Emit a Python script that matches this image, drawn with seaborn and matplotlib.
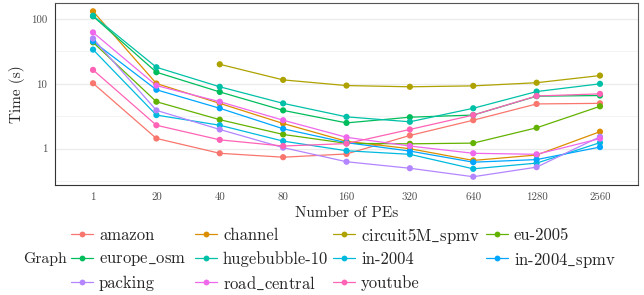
import numpy as np
import pandas as pd
import matplotlib
matplotlib.use('Agg')
import matplotlib.pyplot as plt
from matplotlib.lines import Line2D
from matplotlib.ticker import FixedLocator, NullFormatter
import seaborn as sns

# data
pes = ['1', '20', '40', '80', '160', '320', '640', '1280', '2560']
graphs = ['amazon', 'channel', 'circuit5M_spmv', 'eu-2005', 'europe_osm',
          'hugebubble-10', 'in-2004', 'in-2004_spmv', 'packing',
          'road_central', 'youtube']
amazon = [10.2, 1.44, 0.85, 0.74, 0.83, 1.6, 2.75, 4.9, 5.0]
channel = [131, 10.1, 5.0, 2.45, 1.3, 1.0, 0.66, 0.8, 1.83]
circuit5M_spmv = [np.nan, np.nan, 20, 11.5, 9.4, 9.0, 9.3, 10.4, 13.4]
eu_2005 = [43.6, 5.3, 2.8, 1.66, 1.21, 1.19, 1.22, 2.1, 4.5]
europe_osm = [110, 15.1, 7.5, 3.9, 2.5, 3.06, 3.3, 6.45, 6.6]
hugebubble_10 = [112, 18, 9.0, 5.0, 3.1, 2.6, 4.2, 7.6, 10.0]
in_2004 = [33.7, 3.3, 2.3, 1.31, 0.93, 0.82, 0.49, 0.6, 1.24]
in_2004_spmv = [45, 8.1, 4.2, 2.03, 1.24, 0.92, 0.62, 0.68, 1.06]
packing = [50, 3.9, 1.98, 1.04, 0.63, 0.5, 0.37, 0.52, 1.53]
road_central = [62, 9.4, 5.3, 2.75, 1.5, 1.1, 0.85, 0.82, 1.43]
youtube = [16.4, 2.3, 1.37, 1.1, 1.2, 1.98, 3.3, 6.5, 7.0]
series = [amazon, channel, circuit5M_spmv, eu_2005, europe_osm, hugebubble_10,
          in_2004, in_2004_spmv, packing, road_central, youtube]

# ggplot hue palette
colors = ['#F8766D', '#DB8E00', '#AEA200', '#64B200', '#00BD5C', '#00C1A7',
          '#00BADE', '#00A6FF', '#B385FF', '#EF67EB', '#FF63B6']
palette = dict(zip(graphs, colors))

rows = []
for g, vals in zip(graphs, series):
    for i, (p, v) in enumerate(zip(pes, vals)):
        rows.append({'Graph': g, 'pos': i, 'PEs': p, 'Time': v})
df = pd.DataFrame(rows).dropna()

sns.set_style('white')
plt.rcParams['font.family'] = ['cmr10', 'DejaVu Serif']
plt.rcParams['mathtext.fontset'] = 'cm'
plt.rcParams['axes.formatter.use_mathtext'] = True

W, H = 644, 295
fig, ax = plt.subplots(figsize=(W / 100, H / 100), dpi=100)
fig.subplots_adjust(left=55/W, right=638/W, top=1-3/H, bottom=1-185/H)
ax.set_yscale('log')

sns.lineplot(data=df, x='pos', y='Time', hue='Graph', hue_order=graphs,
             palette=palette, linewidth=0.9, legend=False, ax=ax,
             estimator=None, sort=True)
sns.scatterplot(data=df, x='pos', y='Time', hue='Graph', hue_order=graphs,
                palette=palette, s=20, linewidth=0, legend=False, ax=ax, zorder=3)

ax.set_ylim(0.276, 176)
ax.set_xlim(-0.6, 8.6)
ax.set_yticks([1, 10, 100])
ax.set_yticklabels(['1', '10', '100'])
ax.yaxis.set_minor_locator(FixedLocator([10**-0.5, 10**0.5, 10**1.5]))
ax.yaxis.set_minor_formatter(NullFormatter())
ax.set_xticks(range(len(pes)))
ax.set_xticklabels(pes)

ax.set_axisbelow(True)
ax.grid(False)
ax.grid(axis='y', which='major', color='#EBEBEB', lw=0.9)
ax.grid(axis='y', which='minor', color='#F3F3F3', lw=0.6)

for s in ax.spines.values():
    s.set_visible(True)
    s.set_color('#555555')
    s.set_linewidth(0.8)
ax.spines['left'].set_color('#333333')
ax.spines['bottom'].set_color('#333333')

ax.tick_params(axis='both', which='major', length=3, width=0.8, color='#333333',
               labelcolor='#4D4D4D', labelsize=7.8, pad=2.5)
ax.tick_params(axis='y', which='minor', length=0)

ax.set_xlabel('Number of PEs', fontsize=11)
ax.set_ylabel('Time (s)', fontsize=11)
ax.xaxis.set_label_coords(0.5, -0.115)
ax.yaxis.set_label_coords(-0.0515, 0.5)

# legend laid out by rows (ggplot style), title on the left
key_x = [82, 206, 344, 497]   # key centres, px
row_y = [234, 258, 282]       # row centres, px
ncol = 4
for i, (g, c) in enumerate(zip(graphs, colors)):
    r, k = divmod(i, ncol)
    cx, cy = key_x[k] / W, 1 - row_y[r] / H
    fig.add_artist(Line2D([cx - 11 / W, cx + 11 / W], [cy, cy], color=c, lw=0.9,
                          transform=fig.transFigure))
    fig.add_artist(Line2D([cx], [cy], color=c, marker='o', ms=4.2, mew=0,
                          transform=fig.transFigure))
    fig.text(cx + 17 / W, cy, g.replace('_', r'$\_$'), fontsize=12,
             va='center_baseline', ha='left')
fig.text(23 / W, 1 - row_y[1] / H, 'Graph', fontsize=11.3, va='center_baseline', ha='left')

fig.savefig('out.png', dpi=100)
